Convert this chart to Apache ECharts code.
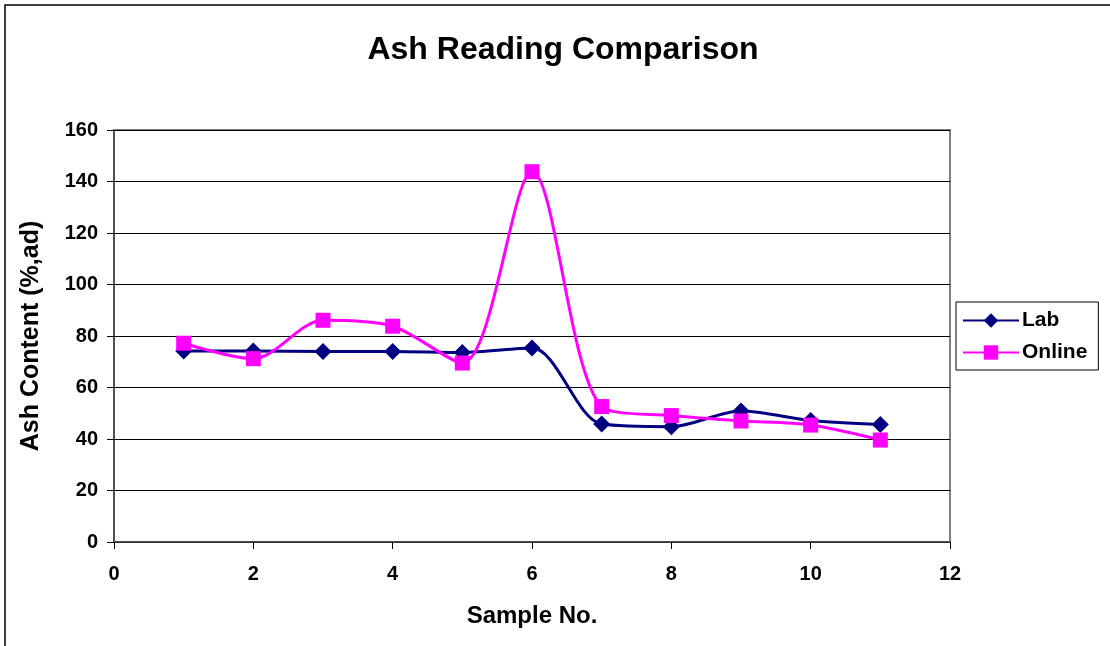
<!DOCTYPE html>
<html>
<head>
<meta charset="utf-8">
<title>Ash Reading Comparison</title>
<script src="https://cdn.jsdelivr.net/npm/echarts@6/dist/echarts.min.js"></script>
<style>
  html, body { margin: 0; padding: 0; background: #fff; }
  #chart { width: 1110px; height: 646px; }
</style>
</head>
<body>
<div id="chart"></div>
<script>
// Sample numbers and ash readings (%, air-dried basis)
const samples = [1, 2, 3, 4, 5, 6, 7, 8, 9, 10, 11];
const labAsh = [74.2, 74.2, 74.0, 74.0, 73.6, 75.3, 45.8, 44.8, 50.9, 47.2, 45.6];
const onlineAsh = [77.2, 71.2, 86.1, 83.8, 69.5, 143.8, 52.6, 49.1, 47.0, 45.4, 39.6];

const FONT = '"Liberation Sans", Arial, Helvetica, sans-serif';

const toPairs = (vals) => samples.map((s, i) => [s, vals[i]]);

const chart = echarts.init(document.getElementById('chart'), null, { renderer: 'canvas' });

chart.setOption({
  animation: false,
  backgroundColor: '#ffffff',
  textStyle: { fontFamily: FONT },
  title: {
    text: 'Ash Reading Comparison',
    left: 558,
    top: 29,
    textAlign: 'center',
    textStyle: { fontFamily: FONT, fontWeight: 'bold', fontSize: 32, color: '#000' }
  },
  graphic: [{
    type: 'rect',
    shape: { x: 5, y: 5, width: 1300, height: 900 },
    style: { fill: 'none', stroke: '#000', lineWidth: 1.5 },
    silent: true
  }],
  legend: {
    orient: 'vertical',
    left: 956,
    top: 302,
    padding: [8, 11, 7, 6],
    itemGap: 11,
    itemWidth: 56,
    itemHeight: 18,
    borderColor: '#000',
    borderWidth: 1,
    backgroundColor: '#fff',
    textStyle: { fontFamily: FONT, fontWeight: 'bold', fontSize: 21, color: '#000', padding: [0, 0, 0, -2] },
    data: ['Lab', 'Online']
  },
  grid: {
    left: 114,
    top: 130,
    width: 836,
    height: 412,
    show: true,
    borderColor: '#808080',
    borderWidth: 2,
    backgroundColor: '#fff'
  },
  xAxis: {
    type: 'value',
    min: 0,
    max: 12,
    interval: 2,
    name: 'Sample No.',
    nameLocation: 'middle',
    nameGap: 62,
    nameTextStyle: { fontFamily: FONT, fontWeight: 'bold', fontSize: 24, color: '#000' },
    axisLine: { show: true, onZero: false, lineStyle: { color: '#404040', width: 1.5 } },
    axisTick: { show: true, inside: false, length: 7, lineStyle: { color: '#000', width: 1 } },
    axisLabel: { margin: 22, fontFamily: FONT, fontWeight: 'bold', fontSize: 20, color: '#000' },
    splitLine: { show: false }
  },
  yAxis: {
    type: 'value',
    min: 0,
    max: 160,
    interval: 20,
    name: 'Ash Content (%,ad)',
    nameLocation: 'middle',
    nameGap: 70,
    nameRotate: 90,
    nameTextStyle: { fontFamily: FONT, fontWeight: 'bold', fontSize: 25, color: '#000' },
    axisLine: { show: true, lineStyle: { color: '#404040', width: 1.5 } },
    axisTick: { show: true, inside: false, length: 7, lineStyle: { color: '#000', width: 1 } },
    axisLabel: { margin: 16, fontFamily: FONT, fontWeight: 'bold', fontSize: 20, color: '#000' },
    splitLine: { show: true, lineStyle: { color: '#000', width: 1 } }
  },
  series: [
    {
      name: 'Lab',
      type: 'line',
      data: toPairs(labAsh),
      smooth: 0.3,
      symbol: 'diamond',
      symbolSize: 17,
      lineStyle: { color: '#000080', width: 3 },
      itemStyle: { color: '#000080', borderWidth: 0 }
    },
    {
      name: 'Online',
      type: 'line',
      data: toPairs(onlineAsh),
      smooth: 0.3,
      symbol: 'rect',
      symbolSize: 15,
      lineStyle: { color: '#FF00FF', width: 3 },
      itemStyle: { color: '#FF00FF', borderWidth: 0 }
    }
  ]
});
</script>
</body>
</html>
